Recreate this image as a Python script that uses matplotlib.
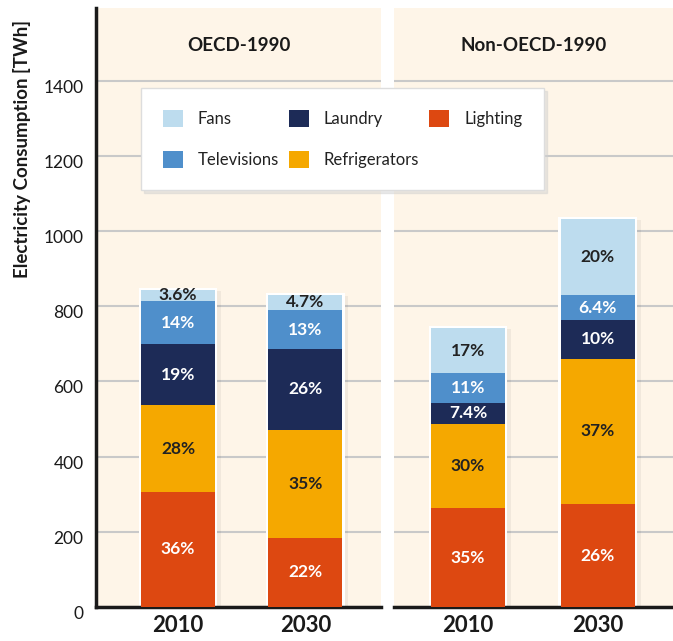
import matplotlib
matplotlib.use("Agg")
import matplotlib.pyplot as plt
import matplotlib.transforms as mtransforms
import numpy as np

plt.rcParams['font.family'] = ['Lato', 'DejaVu Sans']

# data (TWh)
categories = ["Lighting", "Refrigerators", "Laundry", "Televisions", "Fans"]
years = ["2010", "2030"]
regions = ["OECD-1990", "Non-OECD-1990"]

oecd_vals = {
    "Lighting":      [306, 184],
    "Refrigerators": [231, 287],
    "Laundry":       [162, 215],
    "Televisions":   [115, 104],
    "Fans":          [29, 40],
}
nonoecd_vals = {
    "Lighting":      [263, 274],
    "Refrigerators": [224, 386],
    "Laundry":       [56, 103],
    "Televisions":   [79, 67],
    "Fans":          [120, 202],
}
oecd_pct = {
    "Lighting":      ["36%", "22%"],
    "Refrigerators": ["28%", "35%"],
    "Laundry":       ["19%", "26%"],
    "Televisions":   ["14%", "13%"],
    "Fans":          ["3.6%", "4.7%"],
}
nonoecd_pct = {
    "Lighting":      ["35%", "26%"],
    "Refrigerators": ["30%", "37%"],
    "Laundry":       ["7.4%", "10%"],
    "Televisions":   ["11%", "6.4%"],
    "Fans":          ["17%", "20%"],
}

colors = {
    "Fans": "#bddcee",
    "Televisions": "#4f8fcb",
    "Laundry": "#1d2b57",
    "Refrigerators": "#f5a800",
    "Lighting": "#dd4811",
}
text_colors = {
    "Fans": "#222222",
    "Televisions": "white",
    "Laundry": "white",
    "Refrigerators": "#222222",
    "Lighting": "white",
}

BG = "#fef5e8"
GRID = "#c9c9c9"

fig = plt.figure(figsize=(6.73, 6.41), dpi=100)
ax1 = fig.add_axes([0.1426, 0.053, 0.4235, 0.9345])
ax2 = fig.add_axes([0.5854, 0.053, 0.4146, 0.9345])

x = np.arange(len(years))


def draw_panel(ax, vals, pcts, title, xlim, width):
    ax.set_facecolor(BG)
    ax.set_ylim(0, 1593)
    ax.set_xlim(*xlim)
    ax.set_yticks([0, 200, 400, 600, 800, 1000, 1200, 1400])
    ax.yaxis.grid(True, color=GRID, linewidth=1.5, zorder=0)
    ax.set_axisbelow(True)

    totals = np.sum([vals[c] for c in categories], axis=0)
    # white frame with faint shadow behind each stack
    ax.bar(x + 0.015, totals + 4, width=width + 0.06, bottom=-6,
           color="#000000", alpha=0.05, zorder=1, linewidth=0)
    ax.bar(x, totals + 6, width=width + 0.035, bottom=0,
           color="white", zorder=2, linewidth=0)

    bottom = np.zeros(len(years))
    for c in categories:
        v = np.array(vals[c], dtype=float)
        ax.bar(x, v, width=width, bottom=bottom, color=colors[c],
               zorder=3, linewidth=0, label=c)
        for i in range(len(years)):
            ax.text(x[i], bottom[i] + v[i] / 2, pcts[c][i],
                    ha="center", va="center", fontsize=12.5,
                    fontweight="bold", color=text_colors[c], zorder=4)
        bottom += v

    ax.text(0.5, 0.938, title, transform=ax.transAxes, ha="center",
            va="center", fontsize=13.5, fontweight="bold", color="#1a1a1a")

    ax.set_xticks(x)
    ax.set_xticklabels(years, fontsize=16, fontweight="bold", color="#1a1a1a")
    ax.tick_params(axis="x", length=0, pad=6)
    for s in ["top", "right"]:
        ax.spines[s].set_visible(False)
    ax.spines["bottom"].set_linewidth(2.5)
    ax.spines["bottom"].set_color("#1a1a1a")


draw_panel(ax1, oecd_vals, oecd_pct, regions[0], (-0.644, 1.593), 0.58)
draw_panel(ax2, nonoecd_vals, nonoecd_pct, regions[1], (-0.57, 1.58), 0.57)

ax1.spines["left"].set_linewidth(2.5)
ax1.spines["left"].set_color("#1a1a1a")
ax1.tick_params(axis="y", length=0, pad=9, labelsize=12.5, labelcolor="#1a1a1a")
ax1.set_ylabel("Electricity Consumption [TWh]", fontsize=13.5, fontweight="bold",
               color="#1a1a1a")
ax1.yaxis.set_label_coords(-0.228, 0.765)
# tick labels sit a little below their gridlines
offset = mtransforms.ScaledTranslation(0, -4 / 72, fig.dpi_scale_trans)
for lab in ax1.get_yticklabels():
    lab.set_transform(lab.get_transform() + offset)

ax2.spines["left"].set_visible(False)
ax2.tick_params(axis="y", length=0, labelleft=False)

# legend spanning both panels
handles, labels = ax1.get_legend_handles_labels()
order = ["Fans", "Televisions", "Laundry", "Refrigerators", "Lighting"]
hmap = dict(zip(labels, handles))
leg = fig.legend([hmap[o] for o in order], order, ncol=3,
                 loc="lower left", bbox_to_anchor=(0.2095, 0.7036, 0.599, 0.153),
                 mode="expand", frameon=True, fancybox=False,
                 shadow={"color": "#d0d0d0", "alpha": 0.45, "ox": 2, "oy": -2},
                 fontsize=12, handlelength=1.2, handleheight=1.2,
                 handletextpad=0.9, labelspacing=1.45, borderpad=1.3,
                 borderaxespad=0)
leg.get_frame().set_edgecolor("#dddddd")
leg.get_frame().set_linewidth(1.0)
for t in leg.get_texts():
    t.set_color("#222222")

fig.savefig("out.png", dpi=100, facecolor="white")
